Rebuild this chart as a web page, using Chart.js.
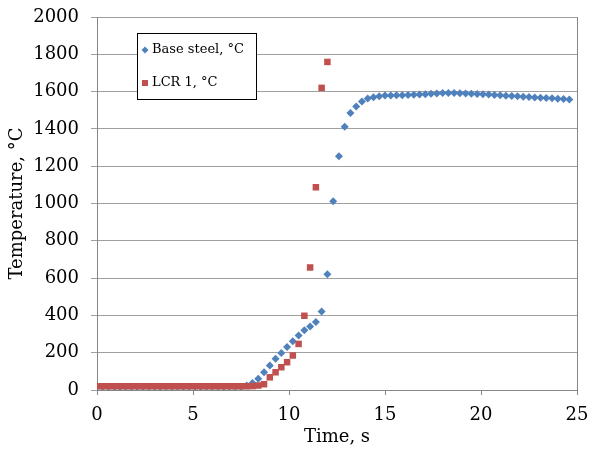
<!DOCTYPE html>
<html>
<head>
<meta charset="utf-8">
<title>Temperature vs time</title>
<script src="https://cdn.jsdelivr.net/npm/chart.js@4/dist/chart.umd.min.js"></script>
<style>
  html, body { margin: 0; padding: 0; background: #fff; }
  #chart { display: block; }
</style>
</head>
<body>
<canvas id="chart" width="589" height="455"></canvas>
<script>
// time axis, s (sample every 0.3 s)
const timeSec = [
  0, 0.3, 0.6, 0.9, 1.2, 1.5, 1.8, 2.1, 2.4, 2.7, 3.0, 3.3, 3.6, 3.9, 4.2, 4.5, 4.8,
  5.1, 5.4, 5.7, 6.0, 6.3, 6.6, 6.9, 7.2, 7.5, 7.8, 8.1, 8.4, 8.7, 9.0, 9.3, 9.6, 9.9,
  10.2, 10.5, 10.8, 11.1, 11.4, 11.7, 12.0, 12.3, 12.6, 12.9, 13.2, 13.5, 13.8, 14.1,
  14.4, 14.7, 15.0, 15.3, 15.6, 15.9, 16.2, 16.5, 16.8, 17.1, 17.4, 17.7, 18.0, 18.3,
  18.6, 18.9, 19.2, 19.5, 19.8, 20.1, 20.4, 20.7, 21.0, 21.3, 21.6, 21.9, 22.2, 22.5,
  22.8, 23.1, 23.4, 23.7, 24.0, 24.3, 24.6
];

// Base steel, °C
const baseSteel = [
  17, 17, 17, 17, 17, 17, 17, 17, 17, 17, 17, 17, 17, 17, 17, 17, 17,
  17, 17, 17, 17, 17, 17, 17, 17, 17, 24, 38, 60, 95, 131, 167, 199, 231,
  261, 292, 320, 341, 365, 421, 621, 1012, 1253, 1411, 1485, 1520, 1547, 1563,
  1570, 1575, 1579, 1579, 1580, 1581, 1582, 1583, 1584, 1586, 1588, 1590, 1592, 1593,
  1592, 1591, 1590, 1588, 1587, 1586, 1584, 1582, 1580, 1578, 1577, 1575, 1573, 1571,
  1569, 1567, 1566, 1564, 1562, 1560, 1558
];

// LCR 1, °C (stops at 12 s)
const lcr1 = [
  20, 20, 20, 20, 20, 20, 20, 20, 20, 20, 20, 20, 20, 20, 20, 20, 20,
  20, 20, 20, 20, 20, 20, 20, 20, 20, 20, 21, 24, 31, 68, 95, 122, 149,
  185, 247, 398, 657, 1087, 1620, 1759
];

const seriesNames = ['Base steel, °C', 'LCR 1, °C'];
const xTicks = [0, 5, 10, 15, 20, 25];
const yTicks = [0, 200, 400, 600, 800, 1000, 1200, 1400, 1600, 1800, 2000];

const BLUE = '#4F81BD';
const RED = '#C0504D';
const FONT = '"DejaVu Serif", "Liberation Serif", serif';

function toPoints(ys) {
  return ys.map((y, i) => ({ x: timeSec[i], y: y }));
}

// legend box inside the plot + right frame line
const boxLegend = {
  id: 'boxLegend',
  afterDraw(chart) {
    const ctx = chart.ctx;
    const a = chart.chartArea;

    ctx.save();
    ctx.strokeStyle = '#868686';
    ctx.lineWidth = 1;
    ctx.beginPath();
    ctx.moveTo(a.right + 0.5, a.top);
    ctx.lineTo(a.right + 0.5, a.bottom);
    ctx.stroke();

    const bx = a.left + 40, by = a.top + 16, bw = 119, bh = 66;
    ctx.fillStyle = '#fff';
    ctx.fillRect(bx, by, bw, bh);
    ctx.strokeStyle = '#000';
    ctx.strokeRect(bx + 0.5, by + 0.5, bw, bh);

    ctx.font = '13px ' + FONT;
    ctx.textBaseline = 'middle';
    ctx.fillStyle = '#000';

    // diamond
    let cx = bx + 8, cy = by + 17;
    ctx.fillStyle = BLUE;
    ctx.beginPath();
    ctx.moveTo(cx, cy - 3.5);
    ctx.lineTo(cx + 3.5, cy);
    ctx.lineTo(cx, cy + 3.5);
    ctx.lineTo(cx - 3.5, cy);
    ctx.closePath();
    ctx.fill();
    ctx.fillStyle = '#000';
    ctx.fillText(seriesNames[0], bx + 15, cy);

    // square
    cy = by + 50;
    ctx.fillStyle = RED;
    ctx.fillRect(cx - 3, cy - 3, 6, 6);
    ctx.fillStyle = '#000';
    ctx.fillText(seriesNames[1], bx + 15, cy);
    ctx.restore();
  }
};

const ctx = document.getElementById('chart').getContext('2d');
new Chart(ctx, {
  type: 'scatter',
  data: {
    datasets: [
      {
        label: seriesNames[0],
        data: toPoints(baseSteel),
        pointStyle: 'rectRot',
        pointRadius: 4,
        backgroundColor: BLUE,
        borderColor: BLUE,
        borderWidth: 0,
        order: 1
      },
      {
        label: seriesNames[1],
        data: toPoints(lcr1),
        pointStyle: 'rect',
        pointRadius: 4.6,
        backgroundColor: RED,
        borderColor: RED,
        borderWidth: 0,
        order: 0
      }
    ]
  },
  options: {
    responsive: false,
    animation: false,
    layout: { padding: { top: 17, right: 12, bottom: 0, left: 0 } },
    plugins: {
      legend: { display: false },
      tooltip: { enabled: false }
    },
    scales: {
      x: {
        type: 'linear',
        min: 0,
        max: 25,
        afterBuildTicks: s => { s.ticks = xTicks.map(v => ({ value: v })); },
        afterFit: s => { s.height = 65; s.paddingLeft = 0; s.paddingRight = 0; },
        grid: { drawOnChartArea: false, drawTicks: true, tickLength: 5, color: '#868686' },
        border: { color: '#868686', width: 1 },
        ticks: { color: '#000', padding: 10, font: { family: FONT, size: 18 }, callback: v => String(v) },
        title: {
          display: true,
          text: 'Time, s',
          color: '#000',
          padding: { top: 0, bottom: 7 },
          font: { family: FONT, size: 18 }
        }
      },
      y: {
        min: 0,
        max: 2000,
        afterBuildTicks: s => { s.ticks = yTicks.map(v => ({ value: v })); },
        afterFit: s => { s.width = 97; s.paddingTop = 0; s.paddingBottom = 0; },
        grid: { color: '#a0a0a0', lineWidth: 1, tickLength: 6, drawTicks: true },
        border: { color: '#868686', width: 1 },
        ticks: { color: '#000', padding: 12, font: { family: FONT, size: 18 }, callback: v => String(v) },
        title: {
          display: true,
          text: 'Temperature, °C',
          color: '#000',
          padding: { top: 7, bottom: 0 },
          font: { family: FONT, size: 18 }
        }
      }
    }
  },
  plugins: [boxLegend]
});
</script>
</body>
</html>
